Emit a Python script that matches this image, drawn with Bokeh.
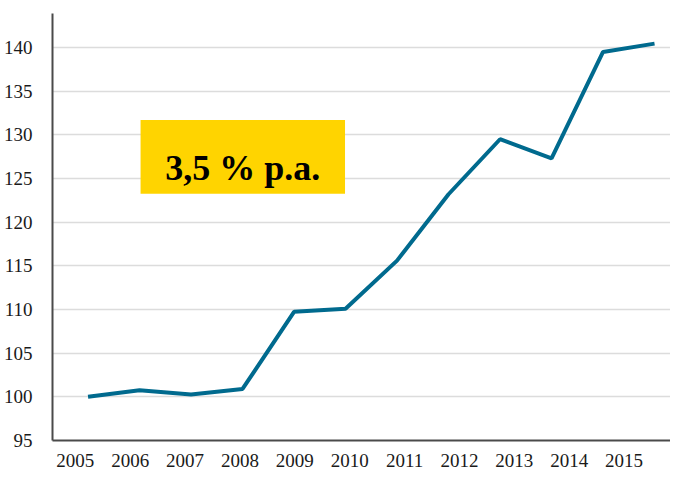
from bokeh.plotting import figure
from bokeh.models import FixedTicker, BoxAnnotation, Label, Range1d
from bokeh.embed import file_html
from bokeh.resources import INLINE

# ---- data ----
years = ["2005", "2006", "2007", "2008", "2009", "2010",
         "2011", "2012", "2013", "2014", "2015"]
values = [100.0, 100.75, 100.26, 100.9, 109.74, 110.08,
          115.6, 123.2, 129.5, 127.3, 139.5, 140.45]
y_ticks = [95, 100, 105, 110, 115, 120, 125, 130, 135, 140]
badge_text = "3,5 % p.a."

# ---- layout constants ----
LABEL_OFFSET = -0.248
LABEL_STEP = 1.0657
xs = list(range(len(values)))
tick_pos = [LABEL_OFFSET + LABEL_STEP * j for j in range(len(years))]

p = figure(width=670, height=469, output_backend="svg", toolbar_location=None,
           x_range=Range1d(-0.69, 11.31), y_range=Range1d(95, 143.9))
p.min_border_left = 46
p.min_border_right = 0
p.min_border_top = 13
p.min_border_bottom = 28
p.outline_line_color = None
p.background_fill_color = "white"
p.border_fill_color = "white"

p.line(xs, values, line_width=4, line_color="#006A8E")

# axes
for ax in (p.xaxis[0], p.yaxis[0]):
    ax.axis_line_color = "#4a4a4a"
    ax.axis_line_width = 2
    ax.major_tick_line_color = None
    ax.minor_tick_line_color = None
    ax.major_label_text_font = "Liberation Serif"
    ax.major_label_text_font_size = "19px"
    ax.major_label_text_color = "#1a1a1a"

p.yaxis[0].ticker = FixedTicker(ticks=y_ticks)
p.yaxis[0].major_label_standoff = 14
p.xaxis[0].ticker = FixedTicker(ticks=tick_pos)
p.xaxis[0].major_label_overrides = {t: y for t, y in zip(tick_pos, years)}
p.xaxis[0].major_label_standoff = 7

p.xgrid.grid_line_color = None
p.ygrid.ticker = FixedTicker(ticks=y_ticks)
p.ygrid.grid_line_color = "#dcdcdc"
p.ygrid.grid_line_width = 1.5

box = BoxAnnotation(left=1.02, right=4.99, bottom=123.25, top=131.7,
                    fill_color="#FFD400", fill_alpha=1.0, line_color=None)
p.add_layout(box)
lbl = Label(x=3.006, y=126.2, text=badge_text, text_align="center",
            text_baseline="alphabetic", text_font="Liberation Serif",
            text_font_style="bold", text_font_size="36px", text_color="black")
p.add_layout(lbl)

open("out.html", "w").write(file_html(p, INLINE))
